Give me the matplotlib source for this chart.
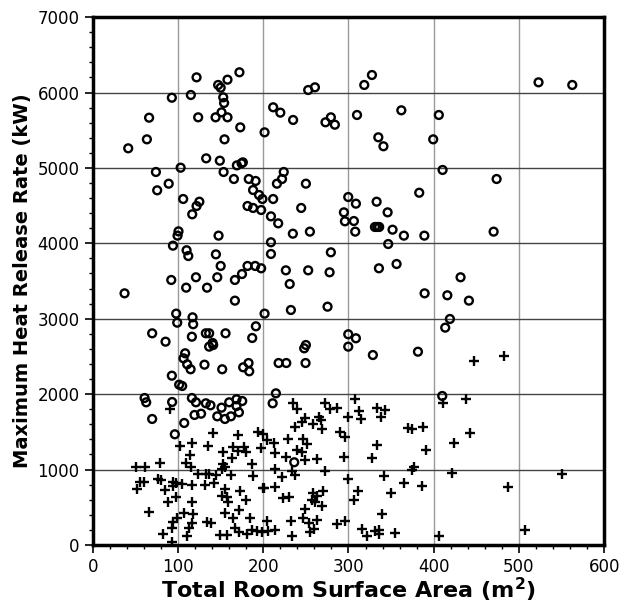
import matplotlib
matplotlib.use("Agg")
import matplotlib.pyplot as plt
from matplotlib.ticker import MultipleLocator

plt.rcParams['font.family'] = ['DejaVu Sans']

# Circles (upper group)
circ_x = [121.7, 147, 150, 158, 172, 92.7, 115, 153, 154, 151, 144, 158, 66, 123.6, 173, 201.5, 63.4, 154.5, 41.5,
          252.7, 260.6, 318.5, 327.5, 211.6, 220, 235, 273, 279.3, 284, 310, 362, 335, 341, 399.4,
          523, 562.6, 406,
          133, 149, 169, 174.5, 176, 74, 103, 153.4, 165.5, 183, 191, 89, 75.5, 188, 195, 199, 106, 125, 121.7,
          116.6, 181.5, 188, 197.5, 100.5, 99.4, 147.5, 94, 110, 112, 144.4, 150, 181.5, 190.5, 197.5, 175,
          92, 121, 146, 166.7,
          224, 222, 216, 250, 211.6, 244.5, 209, 217.5, 234.7, 254.7, 299.7, 308.7, 333, 383, 294.6, 295.8,
          306.3, 307.9, 345.9, 331, 333.7, 336, 351.7, 365, 389, 346.6, 209, 209, 279.3, 356.4, 335.7, 226.5,
          252.7, 277.8,
          410.4, 473.8, 470.3, 431.5,
          37.2, 109.5, 134, 166.7, 97.8, 99, 117, 117.7, 201.5, 191.3, 187, 69.6, 85.3, 116.2, 132.6, 136.5,
          155.7, 140.5, 141.2, 136.5, 108.3, 106.4, 110.7, 114.7, 131, 151.8, 176.4, 182.7, 183.5, 92.7, 101.3,
          104.8, 60.7, 62.6, 93, 116.2, 121, 132.6, 138, 151, 160, 168.6, 175.3, 168.6,
          231, 232.4, 275.4, 389.3, 299.7, 308.7, 299.7, 328.6, 381.5, 250, 248, 218, 227, 249.6, 214.8, 211,
          416, 441.3, 419, 413.5, 410,
          69.6, 107.2, 96.2, 119.3, 127, 146, 155, 162, 171.4, 236.3]
circ_y = [6201, 6100, 6064, 6170, 6268, 5931, 5967, 5936, 5861, 5737, 5671, 5671, 5666, 5671, 5538, 5472, 5379, 5379, 5260,
          6033, 6069, 6100, 6232, 5804, 5733, 5636, 5605, 5671, 5573, 5702, 5764, 5406, 5287, 5379,
          6135, 6100, 5702,
          5127, 5096, 5034, 5061, 5074, 4946, 5003, 4946, 4853, 4853, 4827, 4791, 4703, 4707, 4641, 4588, 4588, 4552, 4495,
          4385, 4495, 4469, 4442, 4159, 4102, 4102, 3969, 3908, 3832, 3854, 3700, 3700, 3700, 3669, 3593,
          3514, 3550, 3550, 3514,
          4946, 4853, 4791, 4791, 4588, 4469, 4358, 4265, 4128, 4155, 4614, 4526, 4552, 4671, 4411, 4292,
          4296, 4155, 4411, 4217, 4217, 4217, 4181, 4102, 4102, 3991, 4014, 3859, 3881, 3726, 3669, 3642,
          3642, 3616,
          4973, 4853, 4155, 3550,
          3337, 3412, 3412, 3240, 3068, 2948, 3019, 2927, 3068, 2900, 2745, 2807, 2696, 2762, 2807, 2807,
          2807, 2679, 2652, 2630, 2542, 2475, 2396, 2330, 2391, 2330, 2356, 2413, 2303, 2245, 2126,
          2108, 1949, 1892, 1896, 1949, 1892, 1879, 1852, 1821, 1892, 1932, 1909, 1843,
          3461, 3116, 3160, 3337, 2794, 2741, 2630, 2519, 2563, 2652, 2608, 2413, 2413, 2413, 2011, 1879,
          3311, 3240, 2997, 2882, 1976,
          1671, 1618, 1468, 1724, 1741, 1706, 1671, 1706, 1759, 1097]

# Pluses (lower group)
plus_x = [90.4, 141.2, 169.8, 194, 199.9, 102.1, 115.8, 135.4, 113.8, 152.2, 164.7, 177.2, 179.6, 170.6, 196.8,
          162.8, 152.9, 154.9, 151.8, 186.6, 187.4, 50.1, 61, 78.6, 109.2, 114.7, 123.6, 132.3, 136.5, 144, 161.6,
          51.3, 55.2, 60.2, 76.6, 79.8, 84.5, 93.5, 94.3, 97.4, 104.5, 115.8, 131.5, 142.4, 154.9, 151.4, 157.6,
          158.8, 172.5, 179.2, 199.9, 88.4, 97.4, 115.8, 66.1, 107.2, 117, 99, 93.5, 154.9, 171.4, 164, 184.3,
          133.4, 138.1, 115.8, 113, 92.4, 81.8, 110, 92.4, 149, 156.9, 166.7, 171.4, 180.4, 187, 192.1, 198,
          239, 235, 272.3, 278.2, 286.7, 307.5, 312.2, 333, 342.7, 248.8, 265.6, 267.6, 245, 258.6, 269.1, 237.1,
          299.3, 314.6, 338, 289.9, 295.8, 370.1, 374, 387.7, 203.9, 212.4, 229.2, 246.1, 250.8, 213.6, 239.8,
          245, 226.5, 248.8, 263.3, 294.6, 333.7, 327.1, 390.5, 376.8, 374.8, 213.6, 233.9, 237.1, 221.8, 272.7,
          299.7, 341.9, 365.4, 386.5, 200.7, 213.6, 222.6, 230.4, 258.6, 262.5, 270.3, 256.7, 260.6, 268.4,
          311.4, 306.3, 349.4, 248.8, 338.8, 203.9, 232, 246.1, 253.5, 262.5, 286.7, 295.8, 259.7, 254.7,
          205.8, 213.6, 233.9, 315.4, 321.2, 331, 335.7, 336, 354.5,
          446.8, 483, 437.4, 411, 442.5, 423.7, 421.4, 486.7, 550.8, 507, 406.1]
plus_y = [1803, 1485, 1463, 1503, 1468, 1317, 1357, 1308, 1193, 1229, 1304, 1304, 1237, 1246, 1282,
          1149, 1070, 1038, 1004, 1070, 919, 1030, 1038, 1083, 1083, 1038, 941, 941, 941, 928, 928,
          743, 831, 839, 875, 862, 729, 839, 782, 818, 809, 796, 796, 818, 743, 654, 632,
          574, 716, 597, 752, 574, 641, 566, 442, 420, 407, 354, 301, 420, 464, 354, 354,
          310, 288, 288, 221, 221, 142, 119, 36, 133, 133, 221, 177, 142, 199, 186, 168,
          1803, 1879, 1887, 1800, 1821, 1932, 1777, 1812, 1794, 1688, 1701, 1658, 1635, 1604, 1534, 1565,
          1701, 1671, 1701, 1494, 1436, 1556, 1538, 1569, 1392, 1348, 1405, 1405, 1335, 1216, 1260,
          1229, 1171, 1127, 1136, 1171, 1326, 1149, 1260, 1038, 990, 1004, 981, 928, 898, 981,
          875, 919, 818, 782, 752, 773, 619, 632, 686, 654, 716, 597, 574, 521,
          716, 597, 686, 477, 407, 318, 318, 354, 288, 332, 278, 318, 212, 177,
          186, 199, 119, 212, 119, 186, 199, 142, 155,
          2436, 2502, 1932, 1879, 1485, 1353, 959, 769, 937, 199, 124]

x_ticks = [0, 100, 200, 300, 400, 500, 600]
y_ticks = [0, 1000, 2000, 3000, 4000, 5000, 6000, 7000]

fig = plt.figure(figsize=(6.19, 6.04), dpi=100)
ax = fig.add_axes([0.150, 0.0977, 0.826, 0.874])

ax.scatter(circ_x, circ_y, s=32, facecolors='none', edgecolors='black', linewidths=1.7, zorder=3)
ax.scatter(plus_x, plus_y, s=48, marker='+', color='black', linewidths=1.7, zorder=3)

ax.set_xlim(0, 600)
ax.set_ylim(0, 7000)
ax.set_xticks(x_ticks)
ax.set_yticks(y_ticks)
ax.xaxis.set_minor_locator(MultipleLocator(20))
ax.yaxis.set_minor_locator(MultipleLocator(200))
ax.tick_params(axis='both', which='major', labelsize=12, length=6, width=1.2, direction='out')
ax.tick_params(axis='both', which='minor', length=3, width=1, direction='out')

for xv in x_ticks[1:-1]:
    ax.axvline(xv, color='#999999', lw=1.0, zorder=1)
for yv in y_ticks[1:-1]:
    ax.axhline(yv, color='#444444', lw=1.0, zorder=1)

for sp in ax.spines.values():
    sp.set_linewidth(2.5)

ax.set_xlabel('Total Room Surface Area (m$^\\mathbf{2}$)', fontsize=16, fontweight='bold')
ax.xaxis.set_label_coords(0.5, -0.058, transform=ax.transAxes)
ax.xaxis.label.set_va('top')
ax.set_ylabel('Maximum Heat Release Rate (kW)', fontsize=14, fontweight='bold', labelpad=4)

fig.savefig('out.png', dpi=100)
